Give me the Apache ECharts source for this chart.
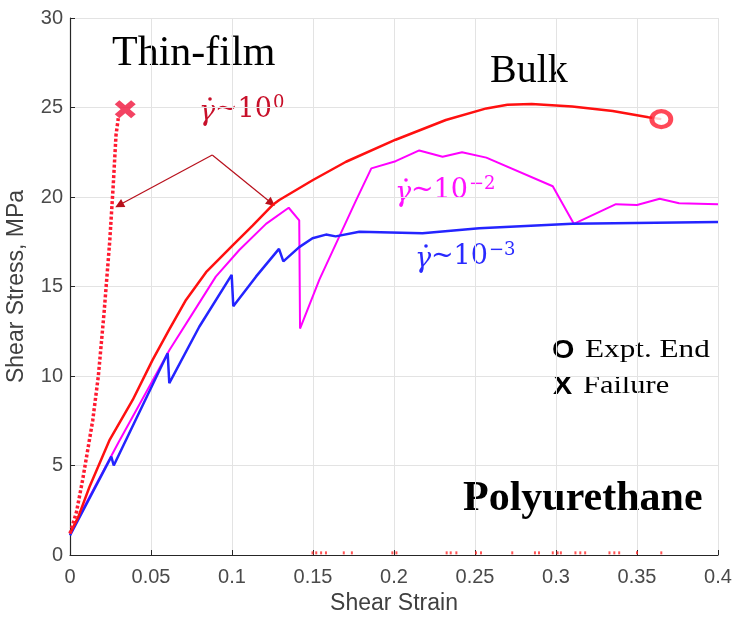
<!DOCTYPE html>
<html>
<head>
<meta charset="utf-8">
<script src="https://cdn.jsdelivr.net/npm/echarts@6/dist/echarts.min.js"></script>
<style>
  html, body { margin: 0; padding: 0; background: #fff; }
  #chart { width: 736px; height: 617px; }
</style>
</head>
<body>
<div id="chart"></div>
<script>
// shear strain / shear stress pairs
const bulkRate0 = [
  [0, 1.2], [0.005, 2.1], [0.012, 3.8], [0.0243, 6.4], [0.0387, 8.66], [0.051, 10.9],
  [0.0613, 12.6], [0.0716, 14.25], [0.084, 15.8], [0.1004, 17.3], [0.1127, 18.4],
  [0.125, 19.55], [0.1292, 19.83], [0.15, 20.95], [0.1704, 21.97], [0.201, 23.2],
  [0.232, 24.3], [0.257, 24.95], [0.27, 25.15], [0.285, 25.2], [0.31, 25.05],
  [0.335, 24.8], [0.357, 24.45], [0.365, 24.35]
];
const bulkRate2 = [
  [0, 1.2], [0.03, 6.3], [0.0614, 11.45], [0.0757, 13.5], [0.09, 15.55], [0.1045, 17.04],
  [0.121, 18.5], [0.135, 19.4], [0.1415, 18.7], [0.142, 12.65], [0.154, 15.4],
  [0.1765, 19.8], [0.186, 21.6], [0.201, 22.0], [0.2156, 22.6], [0.23, 22.25],
  [0.242, 22.5], [0.257, 22.2], [0.298, 20.6], [0.311, 18.5], [0.337, 19.6],
  [0.35, 19.55], [0.364, 19.9], [0.376, 19.65], [0.4, 19.6]
];
const bulkRate3 = [
  [0, 1.1], [0.0255, 5.5], [0.027, 5.0], [0.0603, 11.27], [0.0613, 9.6], [0.0798, 12.75],
  [0.0998, 15.65], [0.1008, 13.9], [0.1148, 15.55], [0.129, 17.1], [0.1317, 16.4],
  [0.1415, 17.2], [0.1497, 17.7], [0.158, 17.9], [0.164, 17.8], [0.1786, 18.06],
  [0.2176, 17.97], [0.2526, 18.25], [0.31, 18.5], [0.4, 18.6]
];
const thinFilm = [
  [0, 1.2], [0.004, 2.4], [0.0078, 4.2], [0.014, 7.5], [0.0175, 10.0], [0.021, 13.5],
  [0.0245, 17.5], [0.0267, 20.67], [0.0284, 23.46], [0.0298, 24.4]
];
const failurePoint = [[0.0341, 24.9]];
const exptEndPoint = [[0.365, 24.35]];
// stray red specks sitting on the strain axis
const axisSpecks = [
  0.1497, 0.152, 0.155, 0.158, 0.169, 0.174, 0.199, 0.2015, 0.2325, 0.235, 0.2385,
  0.2506, 0.2537, 0.273, 0.287, 0.2895, 0.298, 0.301, 0.303, 0.312, 0.315, 0.318,
  0.333, 0.336, 0.339, 0.35, 0.365
];
// arrow from the 10^0 label to both red curves
const arrowFrom = [0.0878, 22.35];
const arrowTargets = [[0.0304, 19.55], [0.1243, 19.66]];

const xTicks = { min: 0, max: 0.4, interval: 0.05 };
const yTicks = { min: 0, max: 30, interval: 5 };

const sans = 'Liberation Sans';
const serif = 'Liberation Serif';
const mathSerif = 'DejaVu Serif';
const xShape = 'path://M0,2.2 L2.2,0 L5,2.8 L7.8,0 L10,2.2 L7.2,5 L10,7.8 L7.8,10 L5,7.2 L2.2,10 L0,7.8 L2.8,5 Z';

// gamma-dot ~ 10^exp, placed by baseline
function rateLabel(exp, color, x, baseline) {
  return {
    type: 'group',
    x: x,
    y: baseline,
    children: [
      {
        type: 'text', x: 0, y: 0,
        style: { text: 'γ', fontFamily: mathSerif, fontStyle: 'italic', fontSize: 27, fill: color, verticalAlign: 'bottom' }
      },
      { type: 'circle', shape: { cx: 11, cy: -27, r: 1.8 }, style: { fill: color } },
      {
        type: 'text', x: 16, y: 0,
        style: {
          text: '{n|~10}{s|' + exp + '}',
          verticalAlign: 'bottom',
          rich: {
            n: { fontFamily: mathSerif, fontSize: 27, lineHeight: 32, fill: color },
            s: { fontFamily: mathSerif, fontSize: 18, lineHeight: 18, verticalAlign: 'top', fill: color, padding: [0, 0, 0, 1] }
          }
        }
      }
    ]
  };
}

function serifText(text, x, mid, size, bold, stretch) {
  return {
    type: 'text',
    x: x,
    y: mid,
    scaleX: stretch || 1,
    style: {
      text: text, fontFamily: serif, fontSize: size, fontWeight: bold ? 'bold' : 'normal',
      fill: '#000', verticalAlign: 'middle'
    }
  };
}

function markerText(text, x, mid) {
  return {
    type: 'text', x: x, y: mid, scaleX: 1.15,
    style: { text: text, fontFamily: sans, fontWeight: 'bold', fontSize: 25, fill: '#000', verticalAlign: 'middle' }
  };
}

const chart = echarts.init(document.getElementById('chart'));

chart.setOption({
  animation: false,
  backgroundColor: '#fff',
  grid: { left: 70, right: 18, top: 18, bottom: 62, containLabel: false, outerBoundsMode: 'none' },
  xAxis: {
    type: 'value',
    min: xTicks.min,
    max: xTicks.max,
    interval: xTicks.interval,
    name: 'Shear Strain',
    nameLocation: 'middle',
    nameGap: 36,
    nameTextStyle: { fontFamily: sans, fontSize: 23, color: '#404040' },
    axisLine: { show: true, lineStyle: { color: '#262626', width: 1.2 } },
    axisTick: { show: true, inside: true, length: 5, lineStyle: { color: '#262626' } },
    axisLabel: {
      fontFamily: sans, fontSize: 20, color: '#4a4a4a', margin: 12,
      formatter: v => String(Math.round(v * 100) / 100)
    },
    splitLine: { show: true, lineStyle: { color: '#e3e3e3', width: 1 } }
  },
  yAxis: {
    type: 'value',
    min: yTicks.min,
    max: yTicks.max,
    interval: yTicks.interval,
    name: 'Shear Stress, MPa',
    nameLocation: 'middle',
    nameGap: 42,
    nameTextStyle: { fontFamily: sans, fontSize: 23, color: '#404040' },
    axisLine: { show: true, lineStyle: { color: '#262626', width: 1.2 } },
    axisTick: { show: true, inside: true, length: 5, lineStyle: { color: '#262626' } },
    axisLabel: { fontFamily: sans, fontSize: 20, color: '#4a4a4a', margin: 7 },
    splitLine: { show: true, lineStyle: { color: '#e3e3e3', width: 1 } }
  },
  series: [
    {
      name: 'rate 1e-2',
      type: 'line',
      data: bulkRate2,
      showSymbol: false,
      lineStyle: { color: '#ff00ff', width: 2 },
      z: 3
    },
    {
      name: 'rate 1e-3',
      type: 'line',
      data: bulkRate3,
      showSymbol: false,
      lineStyle: { color: '#2424ff', width: 2.5 },
      z: 4
    },
    {
      name: 'rate 1e0',
      type: 'line',
      data: bulkRate0,
      showSymbol: false,
      lineStyle: { color: '#ff1010', width: 2.5 },
      z: 5,
      markLine: {
        silent: true,
        symbol: ['none', 'triangle'],
        symbolSize: 9,
        label: { show: false },
        emphasis: { disabled: true },
        lineStyle: { color: '#b8101c', width: 1.2, type: 'solid' },
        data: arrowTargets.map(t => [{ coord: arrowFrom }, { coord: t }])
      }
    },
    {
      name: 'thin film',
      type: 'line',
      data: thinFilm,
      showSymbol: false,
      lineStyle: { color: '#ff1a30', width: 3.5, type: [3, 2.2] },
      z: 5
    },
    {
      name: 'failure',
      type: 'scatter',
      data: failurePoint,
      symbol: xShape,
      symbolSize: [21, 18],
      itemStyle: { color: '#f0143c' },
      z: 6
    },
    {
      name: 'expt end',
      type: 'scatter',
      data: exptEndPoint,
      symbol: 'circle',
      symbolSize: [19, 16],
      itemStyle: { color: '#fff', borderColor: '#ff1a2e', borderWidth: 4.5 },
      z: 6
    },
    {
      name: 'specks',
      type: 'scatter',
      data: axisSpecks.map(x => [x, 0.12]),
      symbol: 'rect',
      symbolSize: [2, 3],
      itemStyle: { color: '#ff2a2a' },
      z: 6
    }
  ],
  graphic: [
    serifText('Thin-film', 112, 54, 42, false),
    serifText('Bulk', 490, 71, 40, false),
    rateLabel('0', '#c8102a', 199, 126),
    rateLabel('−2', '#ff10ff', 395, 207),
    rateLabel('−3', '#2a2aff', 415, 273),
    markerText('O', 552, 351),
    serifText('Expt. End', 585, 350, 26, false, 1.2),
    markerText('X', 553, 387),
    serifText('Failure', 583, 386, 26, false, 1.17),
    serifText('Polyurethane', 463, 499, 42, true)
  ]
});
</script>
</body>
</html>
